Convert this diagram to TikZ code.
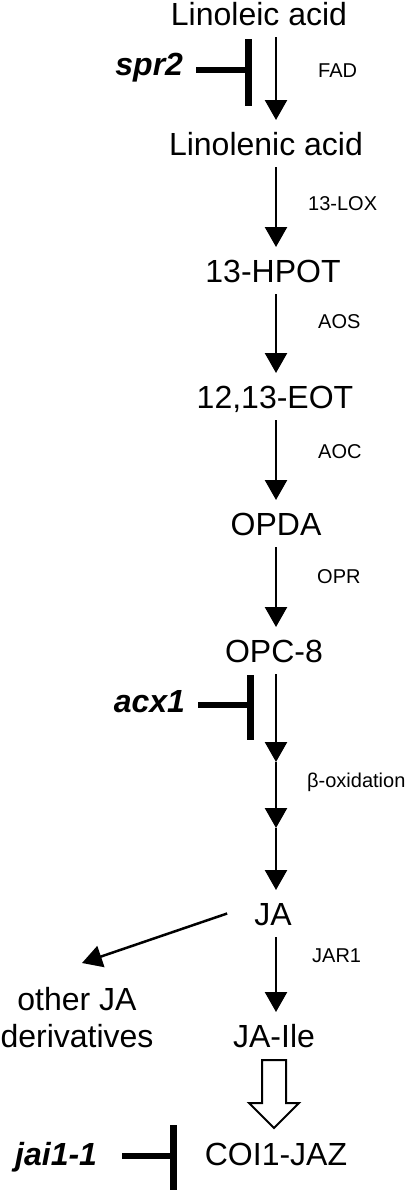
\documentclass[tikz,border=0pt]{standalone}
\usepackage{fontspec}
\setmainfont{Liberation Sans}
\usetikzlibrary{arrows.meta}
\tikzset{
  metab/.style={font=\fontsize{32}{37}\selectfont, inner sep=0pt, outer ysep=12pt, text height=23pt, text depth=0pt, anchor=base},
  enzyme/.style={font=\fontsize{20}{24}\selectfont, inner sep=0pt, anchor=base west},
  mutant/.style={font=\fontsize{32}{37}\selectfont\bfseries\itshape, inner sep=0pt, outer xsep=13pt, anchor=base east},
  flow/.style={line width=2.5pt, -{Triangle[width=22pt,length=20pt]}},
  stem/.style={line width=6pt},
  block/.style={line width=7pt},
  hollow/.style={line width=2pt, fill=white}
}
\begin{document}
\begin{tikzpicture}[x=1pt,y=-1pt]
  \useasboundingbox (0,0) rectangle (415,1194);
  \coordinate (spine) at (276,0);
  % pathway
  \node[metab] (linoleic) at (259,25) {Linoleic acid};
  \node[metab] (linolenic) at (266,155) {Linolenic acid};
  \node[metab] (hpot) at (273,282) {13-HPOT};
  \node[metab] (eot) at (275,408) {12,13-EOT};
  \node[metab] (opda) at (276,535) {OPDA};
  \node[metab] (opc) at (274,662) {OPC-8};
  \node[metab] (ja) at (273,925) {JA};
  \node[metab] (jaile) at (274,1047) {JA-Ile};
  \node[metab] (coi) at (276,1165) {COI1-JAZ};
  \node[font=\fontsize{32}{37}\selectfont, inner sep=0pt, align=center, anchor=north] (other) at (77,987) {other JA\\derivatives};
  % enzymes
  \node[enzyme] (fad) at (318,77) {FAD};
  \node[enzyme] (lox) at (308,210) {13-LOX};
  \node[enzyme] (aos) at (318,328) {AOS};
  \node[enzyme] (aoc) at (318,458) {AOC};
  \node[enzyme] (opr) at (317,583) {OPR};
  \node[enzyme] (betaox) at (307,787) {β-oxidation};
  \node[enzyme] (jar) at (312,962) {JAR1};
  % mutants
  \node[mutant] (spr) at (196,75) {spr2};
  \node[mutant] (acx) at (198,712) {acx1};
  \node[mutant, outer xsep=25pt] (jai) at (122,1165) {jai1-1};
  \coordinate (sprbar) at (248,70);
  \coordinate (acxbar) at (250,705);
  \coordinate (jaibar) at (173,1156);
  \draw[flow] (linoleic.south -| spine) -- (linolenic.north -| spine);
  \draw[flow] (linolenic.south -| spine) -- (hpot.north -| spine);
  \draw[flow] (hpot.south -| spine) -- (eot.north -| spine);
  \draw[flow] (eot.south -| spine) -- (opda.north -| spine);
  \draw[flow] (opda.south -| spine) -- (opc.north -| spine);
  \coordinate (ox1) at (276,762);
  \coordinate (ox2) at (276,828);
  \draw[flow] (opc.south -| spine) -- (ox1);
  \draw[flow] (ox1) -- (ox2);
  \draw[flow] (ox2) -- (ja.north -| spine);
  \draw[flow] (ja.south -| spine) -- (jaile.north -| spine);
  \draw[flow] ([xshift=-27pt]ja.west) -- ([shift={(5pt,24pt)}]other.north);
  \draw[hollow] (jaile.south) ++(-12,1) -- ++(24,0) -- ++(0,43) -- ++(13,0) -- ++(-25,25) -- ++(-25,-25) -- ++(13,0) -- cycle;
  % inhibitions
  \draw[stem] (spr.east |- sprbar) -- (sprbar);
  \draw[block] (sprbar) ++(0,-31) -- ++(0,67);
  \draw[stem] (acx.east |- acxbar) -- (acxbar);
  \draw[block] (acxbar) ++(0,-30) -- ++(0,65);
  \draw[stem] (jai.east |- jaibar) -- (jaibar);
  \draw[block] (jaibar) ++(0,-31) -- ++(0,65);
\end{tikzpicture}
\end{document}
